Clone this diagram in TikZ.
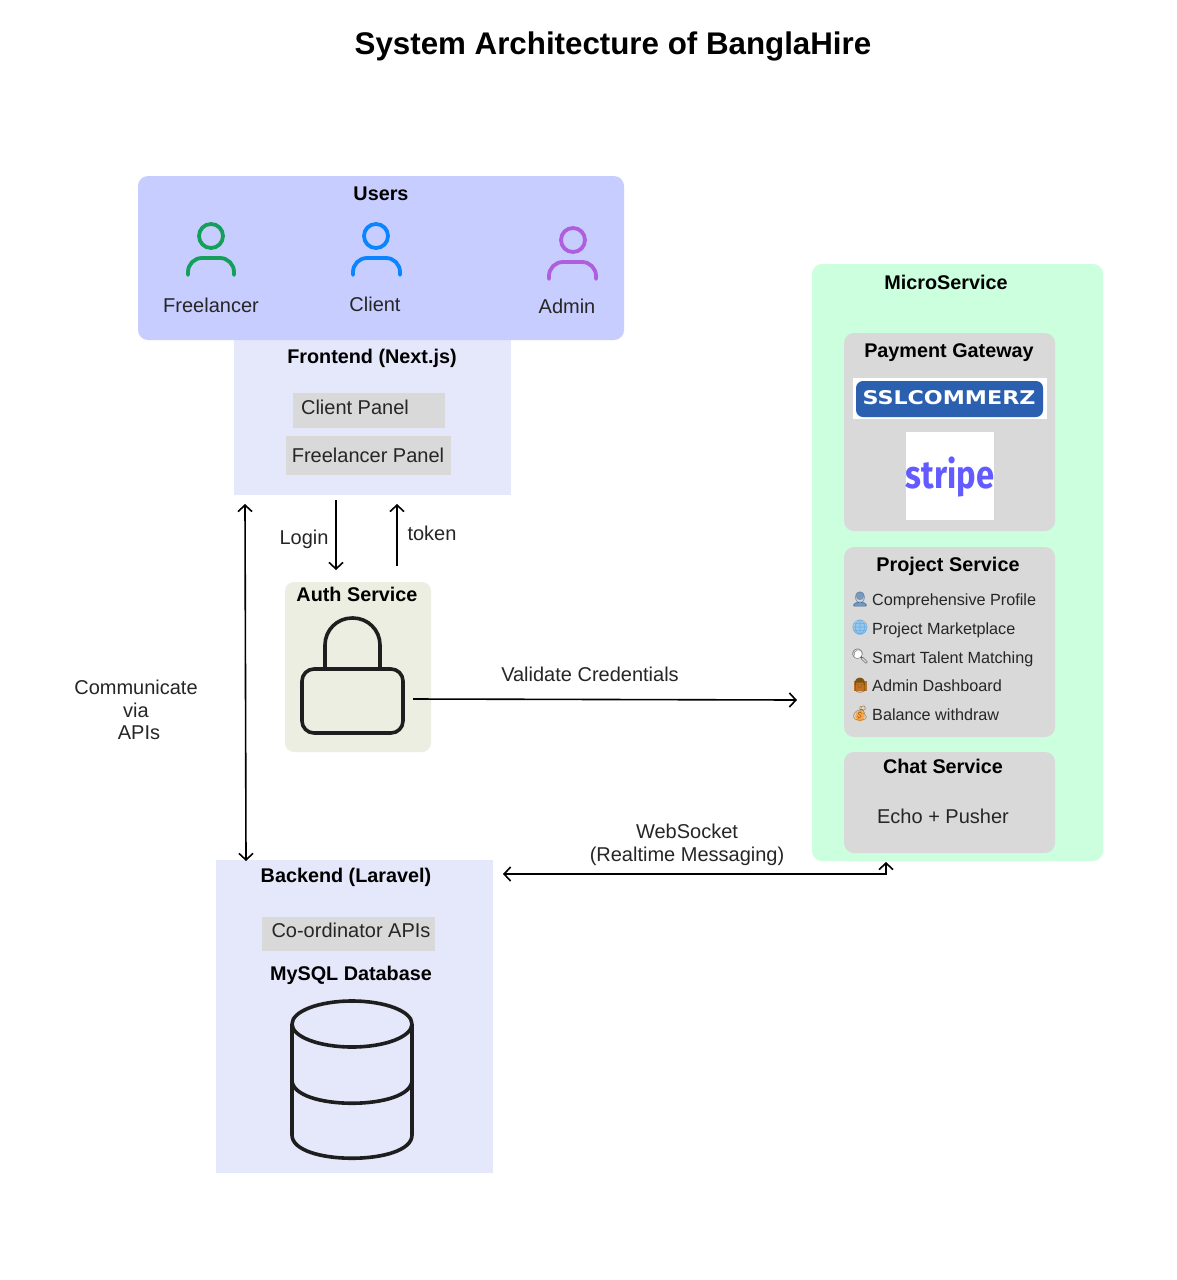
\documentclass[tikz,border=0pt]{standalone}
\usepackage{fontspec}
\setmainfont{Liberation Sans}
\newfontfamily\emojifont[BoldFeatures={FakeBold=2.5}]{Noto Emoji}
\newfontfamily\stripefont{Fira Sans}
\newfontfamily\sslfont{DejaVu Sans}
\usetikzlibrary{arrows.meta}
\newcommand{\fpx}[1]{\fontsize{#1}{#1}\selectfont}
\newcommand{\panel}[6]{%
  \pgfmathsetmacro{\pw}{#4-#2}\pgfmathsetmacro{\ph}{#5-#3}%
  \pgfmathsetmacro{\pcx}{(#2+#4)/2}\pgfmathsetmacro{\pcy}{(#3+#5)/2}%
  \node[#6,minimum width=\pw pt,minimum height=\ph pt] (#1) at (\pcx,\pcy) {};}
\tikzset{
  x=1pt,y=-1pt,
  base/.style={inner sep=0,outer sep=0,draw=none,rectangle},
  usersbox/.style={base,fill=usersc,rounded corners=10pt},
  layerbox/.style={base,fill=layerc},
  authbox/.style={base,fill=authc,rounded corners=9pt},
  microbox/.style={base,fill=microc,rounded corners=10pt},
  servicebox/.style={base,fill=servc,rounded corners=10pt},
  chip/.style={base,fill=servc},
  whitebox/.style={base,fill=white},
  sslbox/.style={base,fill=sslc,rounded corners=7pt},
  head/.style={font=\fpx{19.8}\bfseries,text=black,inner sep=0,text height=14.2pt,text depth=0pt,yshift=0.5pt},
  lbl/.style={font=\fpx{20},text=black!85,inner sep=0,text height=14.2pt,text depth=0pt,yshift=0.5pt},
  item/.style={font=\fpx{16.2},text=black!85,inner sep=0,anchor=west,text height=11.6pt,text depth=0pt},
  emo/.style={font=\emojifont\bfseries\fpx{14.5},inner sep=0},
  conn/.style={draw=black,line width=1.6pt,-{Straight Barb[length=6.5pt,width=14pt,line width=1.6pt]}},
  biconn/.style={draw=black,line width=1.6pt,{Straight Barb[length=6.5pt,width=14pt,line width=1.6pt]}-{Straight Barb[length=6.5pt,width=14pt,line width=1.6pt]}},
  icon/.style={line width=3.8pt,line cap=round,fill=none},
  glyph/.style={draw=iconk,line width=3.6pt,fill=none,line join=round},
}
\definecolor{usersc}{HTML}{C7CDFF}
\definecolor{layerc}{HTML}{E5E7FA}
\definecolor{authc}{HTML}{ECEEE1}
\definecolor{microc}{HTML}{CBFFDD}
\definecolor{servc}{HTML}{D9D9D9}
\definecolor{sslc}{HTML}{2B5FB0}
\definecolor{stripec}{HTML}{635BFF}
\definecolor{iconk}{HTML}{1E1E1E}
\definecolor{greenu}{HTML}{14A05A}
\definecolor{blueu}{HTML}{0A84FF}
\definecolor{purpleu}{HTML}{AF5FDE}
\definecolor{emoA}{HTML}{3F6F9F}
\definecolor{emoB}{HTML}{5FA8E0}
\definecolor{emoC}{HTML}{555555}
\definecolor{emoD}{HTML}{7A5410}
\definecolor{emoE}{HTML}{9A6E20}
\begin{document}
\begin{tikzpicture}
\useasboundingbox[fill=white] (0,0) rectangle (1176,1280);
% title
\node[font=\fpx{31.3}\bfseries,inner sep=0,text height=22.5pt,text depth=0pt] (title) at (613,43) {System Architecture of BanglaHire};
% users
\panel{frontend}{234}{335}{511}{495}{layerbox}
\panel{users}{138}{176}{624}{340}{usersbox}
\node[head] (usersT) at (381,194) {Users};
\draw[icon,draw=greenu] (211,236) circle[radius=12pt];
\draw[icon,draw=greenu,rounded corners=14pt] (188,275)--(188,258)--(234,258)--(234,275);
\draw[icon,draw=blueu] (376,236) circle[radius=12pt];
\draw[icon,draw=blueu,rounded corners=14pt] (353,275)--(353,258)--(400,258)--(400,275);
\draw[icon,draw=purpleu] (573,240) circle[radius=12pt];
\draw[icon,draw=purpleu,rounded corners=14pt] (549,279)--(549,262)--(596,262)--(596,279);
\node[lbl] (freel) at (211,305.5) {Freelancer};
\node[lbl] (client) at (375,304.5) {Client};
\node[lbl] (admin) at (567,306.5) {Admin};
% frontend
\node[head] (frontT) at (372,357) {Frontend (Next.js)};
\panel{cpanel}{293}{393}{445}{428}{chip}
\panel{fpanel}{286}{436}{451}{475}{chip}
\node[lbl] (cpT) at (355,407.5) {Client Panel};
\node[lbl] (fpT) at (368,455.5) {Freelancer Panel};
% auth
\panel{auth}{285}{582}{431}{752}{authbox}
\node[head] (authT) at (357,595) {Auth Service};
\draw[glyph,rounded corners=12pt] (302,669) rectangle (403,733);
\draw[glyph,rounded corners=27pt] (325,669)--(325,618)--(380,618)--(380,669);
% backend
\panel{backend}{216}{860}{493}{1173}{layerbox}
\node[head] (backT) at (346,876) {Backend (Laravel)};
\panel{coord}{262}{917}{435}{951}{chip}
\node[lbl] (coT) at (351,930.5) {Co-ordinator APIs};
\node[head] (mysql) at (351,974) {MySQL Database};
\draw[glyph] (352,1024) circle[x radius=60pt,y radius=23pt];
\draw[glyph] (292,1024)--(292,1135) .. controls (292,1166) and (412,1166) .. (412,1135)--(412,1024);
\draw[glyph] (292,1080) .. controls (292,1111) and (412,1111) .. (412,1080);
% microservice
\panel{micro}{812}{264}{1103}{861}{microbox}
\node[head] (microT) at (946,282.5) {MicroService};
\panel{pay}{844}{333}{1055}{531}{servicebox}
\node[head] (payT) at (949,350.5) {Payment Gateway};
\panel{sslw}{853}{378}{1047}{419}{whitebox}
\panel{sslb}{856}{381}{1043}{417}{sslbox}
\node[inner sep=0,text=white] (sslT) at (949,398) {\resizebox{173pt}{14pt}{\sslfont\bfseries SSLCOMMERZ}};
\panel{stripew}{906}{432}{994}{520}{whitebox}
\node[inner sep=0,text=stripec,anchor=base] (stripeT) at (950,488) {\scalebox{0.84}[1]{\fpx{39}\stripefont\bfseries stripe}};
\panel{proj}{844}{547}{1055}{737}{servicebox}
\node[head] (projT) at (948,565) {Project Service};
% tinted backings under the emoji
\fill[emoA!70!white] (860,596) circle[radius=4.2pt];
\fill[emoA!70!white] (853,606) .. controls (853,600) and (867,600) .. (867,606) -- cycle;
\fill[emoB!65!white] (860,628) circle[radius=6.8pt];
\fill[white] (858,655) circle[radius=4.2pt];
\fill[orange!70!black!85!white] (853.5,681) rectangle (866.5,691);
\fill[orange!70!white] (860,716) circle[x radius=4.8pt,y radius=5.5pt];
\node[emo,text=emoA] (e1) at (860,600) {👤};
\node[emo,text=emoB] (e2) at (860,628) {🌐};
\node[emo,text=emoC] (e3) at (860,657) {🔍};
\node[emo,text=emoD] (e4) at (860,686) {👨};
\node[emo,text=emoE] (e5) at (860,714) {💰};
\node[item] (i1) at (872,600) {Comprehensive Profile};
\node[item] (i2) at (872,629) {Project Marketplace};
\node[item] (i3) at (872,658) {Smart Talent Matching};
\node[item] (i4) at (872,686) {Admin Dashboard};
\node[item] (i5) at (872,715) {Balance withdraw};
\panel{chat}{844}{752}{1055}{853}{servicebox}
\node[head] (chatT) at (943,766.5) {Chat Service};
\node[lbl] (echo) at (943,816.5) {Echo + Pusher};
% connector ends
\coordinate (loginA) at (336,500);
\coordinate (loginB) at (336,570);
\coordinate (tokenA) at (397,566);
\coordinate (tokenB) at (397,504);
\coordinate (apiA) at (245,504);
\coordinate (apiB) at (246,861);
\coordinate (valA) at (413,699);
\coordinate (valB) at (797,700);
\coordinate (wsA) at (503,874);
\coordinate (wsB) at (886,862);
\draw[conn] (loginA) -- (loginB);
\draw[conn] (tokenA) -- (tokenB);
\draw[biconn] (apiA) -- (apiB);
\draw[conn] (valA) -- (valB);
\draw[biconn] (wsA) -- (wsA -| wsB) -- (wsB);
% connector labels
\node[lbl] (loginT) at (304,537.5) {Login};
\node[lbl] (tokenT) at (432,533.5) {token};
\node[lbl] (valT) at (590,674.5) {Validate Credentials};
\node[lbl] (cT1) at (136,687.5) {Communicate};
\node[lbl] (cT2) at (136,710.5) {via};
\node[lbl] (cT3) at (139,732.5) {APIs};
\node[lbl] (wsT1) at (687,831.5) {WebSocket};
\node[lbl] (wsT2) at (687,854.5) {(Realtime Messaging)};
\end{tikzpicture}
\end{document}
